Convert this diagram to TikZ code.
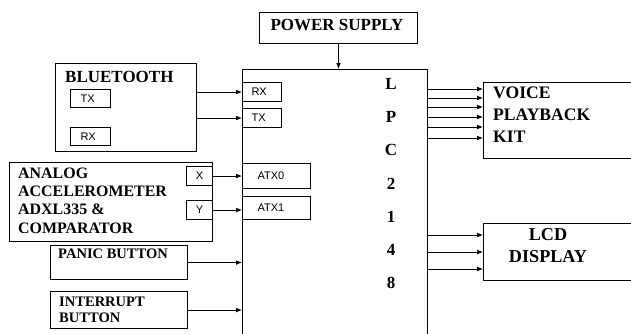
\documentclass[tikz,border=0pt]{standalone}
\usepackage{fontspec}
\setmainfont{Liberation Serif}
\newfontfamily\pinfont{Liberation Sans}
\usetikzlibrary{arrows.meta}
\def\u{0.3mm}
\tikzset{
  blk/.style={draw,line width=.9pt,inner sep=0pt,anchor=north west},
  hdr/.style={font=\fontsize{14.5}{18.7}\selectfont\bfseries,inner sep=0pt,align=left},
  pintxt/.style={font=\pinfont\fontsize{9.4}{11}\selectfont},
  pinbox/.style 2 args={blk,pintxt,align=left,inner xsep=#1*\u,text width=#2*\u},
  wire/.style={-{Latex[length=5pt,width=4pt]},line width=.7pt},
}
\begin{document}
\begin{tikzpicture}[x=\u,y=-\u]
  \useasboundingbox (0,0) rectangle (631,333);
  \clip (0,0) rectangle (631,333);
  \node[blk,minimum width=158*\u,minimum height=31*\u] (ps) at (259,12) {};
  \node[hdr] (pstxt) at (337,25) {POWER SUPPLY};
  \node[blk,minimum width=185*\u,minimum height=290*\u] (lpc) at (242,69) {};
  \foreach \ch [count=\i from 0] in {L,P,C,2,1,4,8}
    \node[hdr] (lpc\i) at (391,84+33.2*\i) {\ch};
  \node[pinbox={9}{21},minimum height=19*\u] (rx) at (242,82) {RX};
  \node[pinbox={9}{21},minimum height=19*\u] (tx) at (242,108) {TX};
  \node[pinbox={15}{38},minimum height=25*\u] (atx0) at (242,163) {ATX0};
  \node[pinbox={15}{38},minimum height=23*\u] (atx1) at (242,196) {ATX1};
  \draw[wire] (ps.south) -- (ps.south |- lpc.north);

  \node[blk,minimum width=141*\u,minimum height=88*\u] (bt) at (55,63) {};
  \node[hdr,anchor=west] (bttxt) at (65,77) {BLUETOOTH};
  \node[pinbox={10}{20},minimum height=18*\u] (bttx) at (70,89) {TX};
  \node[pinbox={10}{20},minimum height=18*\u] (btrx) at (70,127) {RX};
  \draw[wire] (bt.east |- rx) -- (rx.west);
  \draw[wire] (bt.east |- tx) -- (tx.west);

  \node[blk,minimum width=203*\u,minimum height=79*\u] (acc) at (9,162) {};
  \node[hdr,anchor=west,font=\fontsize{13.6}{15.6}\selectfont\bfseries] (acctxt) at (18,200.5)
    {ANALOG\\ACCELEROMETER\\ADXL335 \&\\COMPARATOR};
  \node[blk,pintxt,minimum width=26*\u,minimum height=19*\u] (accx) at (186,166) {X};
  \node[blk,pintxt,minimum width=26*\u,minimum height=19*\u] (accy) at (186,200) {Y};
  \draw[wire] (accx.east) -- (accx.east -| lpc.west);
  \draw[wire] (accy.east) -- (accy.east -| lpc.west);

  \node[blk,minimum width=137*\u,minimum height=34*\u] (panic) at (50,245) {};
  \node[hdr,anchor=west,font=\fontsize{12.4}{14}\selectfont\bfseries] (panictxt) at (58,254) {PANIC BUTTON};
  \draw[wire] (panic.east) -- (panic.east -| lpc.west);

  \node[blk,minimum width=137*\u,minimum height=37*\u] (intr) at (50,291) {};
  \node[hdr,anchor=west,font=\fontsize{12.4}{13.6}\selectfont\bfseries] (intrtxt) at (59,310)
    {INTERRUPT\\BUTTON};
  \draw[wire] (intr.east) -- (intr.east -| lpc.west);

  \node[blk,minimum width=160*\u,minimum height=76*\u] (voice) at (483,82) {};
  \node[hdr,anchor=west,font=\fontsize{15}{18.7}\selectfont\bfseries] (voicetxt) at (493,115)
    {VOICE\\PLAYBACK\\KIT};
  \foreach \yy in {89,98,107,117,127,138}
    \draw[wire] (lpc.east |- 0,\yy) -- (voice.west |- 0,\yy);

  \node[blk,minimum width=160*\u,minimum height=57*\u] (lcd) at (483,223) {};
  \node[hdr,align=center,font=\fontsize{15.5}{18.7}\selectfont\bfseries] (lcdtxt) at (548,246)
    {LCD\\DISPLAY};
  \foreach \yy in {235,252,269}
    \draw[wire] (lpc.east |- 0,\yy) -- (lcd.west |- 0,\yy);
\end{tikzpicture}
\end{document}
